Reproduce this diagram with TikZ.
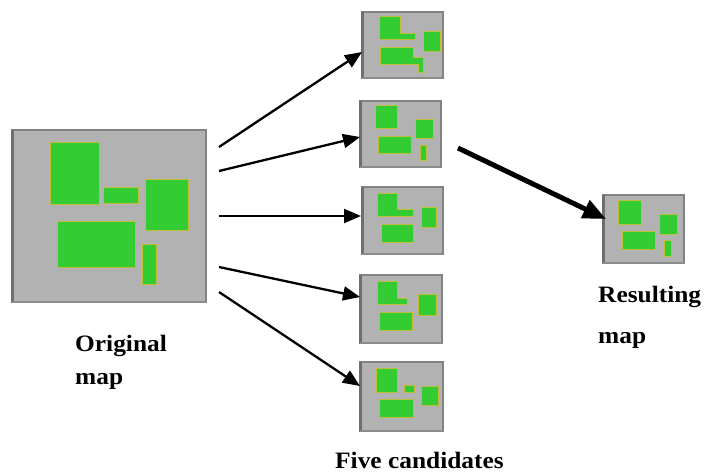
\documentclass[tikz,border=0pt]{standalone}
\usepackage{fontspec}
\setmainfont{Liberation Serif}
\usetikzlibrary{arrows.meta}
\definecolor{mapgray}{RGB}{178,178,178}
\definecolor{mapedge}{RGB}{130,130,130}
\definecolor{mapshadow}{RGB}{110,110,110}
\definecolor{zone}{RGB}{51,204,51}
\definecolor{zoneedge}{RGB}{190,190,60}
\tikzset{
  mapbox/.style={draw=mapedge, fill=mapgray, line width=1.3pt, inner sep=0pt},
  zonefill/.style={fill=zone, draw=zoneedge, line width=0.9pt},
  thinarrow/.style={line width=2.3pt, -{Triangle[length=17pt,width=14pt]}},
  thickarrow/.style={line width=5pt, -{Triangle[length=23pt,width=19pt]}},
  lbl/.style={font=\fontsize{23.5}{28}\selectfont\bfseries, inner sep=0pt}
}
\newcommand{\drawmapbox}[5]{%
  \node[mapbox, minimum width=#4-#2, minimum height=#5-#3] (#1) at ({(#2+#4)/2},{(#3+#5)/2}) {};
  \draw[mapshadow, line width=2.5pt] (#2+0.6,#3) -- (#2+0.6,#5);
  \draw[mapshadow!80, line width=1.8pt] (#2,#5) -- (#4,#5);
}
\newcommand{\wstr}[1]{\scalebox{1.08}[1]{#1}}
\begin{document}
\begin{tikzpicture}[x=1pt,y=-1pt]
\useasboundingbox[fill=white] (0,0) rectangle (709,474);
% original map
\drawmapbox{orig}{12}{130}{206}{302}
\draw[zonefill] (50,142) rectangle (99,204);
\draw[zonefill] (103,187) rectangle (138,203);
\draw[zonefill] (145,179) rectangle (188,230);
\draw[zonefill] (57,221) rectangle (135,267);
\draw[zonefill] (142,244) rectangle (156,284);
% candidate 1
\drawmapbox{c1}{362}{12}{443}{78}
\draw[zonefill] (379,16) -- (400,16) -- (400,33) -- (415,33) -- (415,39) -- (379,39) -- cycle;
\draw[zonefill] (423,31) rectangle (440,51);
\draw[zonefill] (380,47) -- (413,47) -- (413,57) -- (423,57) -- (423,72) -- (418,72) -- (418,64) -- (380,64) -- cycle;
% candidate 2
\drawmapbox{c2}{360}{101}{441}{167}
\draw[zonefill] (375,105) rectangle (397,128);
\draw[zonefill] (378,136) rectangle (411,153);
\draw[zonefill] (415,119) rectangle (433,138);
\draw[zonefill] (420,145) rectangle (426,160);
% candidate 3
\drawmapbox{c3}{362}{187}{443}{254}
\draw[zonefill] (377,193) -- (397,193) -- (397,209) -- (413,209) -- (413,216) -- (377,216) -- cycle;
\draw[zonefill] (421,207) rectangle (436,227);
\draw[zonefill] (381,224) rectangle (413,242);
% candidate 4
\drawmapbox{c4}{360}{275}{442}{343}
\draw[zonefill] (377,281) -- (397,281) -- (397,298) -- (407,298) -- (407,304) -- (377,304) -- cycle;
\draw[zonefill] (418,294) rectangle (436,315);
\draw[zonefill] (379,312) rectangle (412,330);
% candidate 5
\drawmapbox{c5}{360}{362}{443}{431}
\draw[zonefill] (376,368) rectangle (397,392);
\draw[zonefill] (404,385) rectangle (414,392);
\draw[zonefill] (421,386) rectangle (438,405);
\draw[zonefill] (379,399) rectangle (413,417);
% resulting map
\drawmapbox{res}{603}{195}{684}{263}
\draw[zonefill] (618,200) rectangle (641,224);
\draw[zonefill] (622,231) rectangle (655,249);
\draw[zonefill] (659,214) rectangle (677,234);
\draw[zonefill] (664,240) rectangle (671,256);
% arrow anchors
\coordinate (s1) at (219,147);
\coordinate (s2) at (219,171);
\coordinate (s3) at (219,216);
\coordinate (s4) at (219,267);
\coordinate (s5) at (219,292);
\coordinate (e1) at (362,52);
\coordinate (e2) at (360,137);
\coordinate (e3) at (361,216);
\coordinate (e4) at (360,297);
\coordinate (e5) at (360,386);
\coordinate (st) at (458,148);
\coordinate (et) at (606,219);
\draw[thinarrow] (s1) -- (e1);
\draw[thinarrow] (s2) -- (e2);
\draw[thinarrow] (s3) -- (e3);
\draw[thinarrow] (s4) -- (e4);
\draw[thinarrow] (s5) -- (e5);
\draw[thickarrow] (st) -- (et);
% labels
\node[lbl, anchor=base west] (t1) at (75,351) {\wstr{Original}};
\node[lbl, anchor=base west] (t2) at (75,384) {\wstr{map}};
\node[lbl, anchor=base west] (t3) at (598,302) {\wstr{Resulting}};
\node[lbl, anchor=base west] (t4) at (598,343) {\wstr{map}};
\node[lbl, anchor=base west] (t5) at (335,468) {\wstr{Five candidates}};
\end{tikzpicture}
\end{document}
